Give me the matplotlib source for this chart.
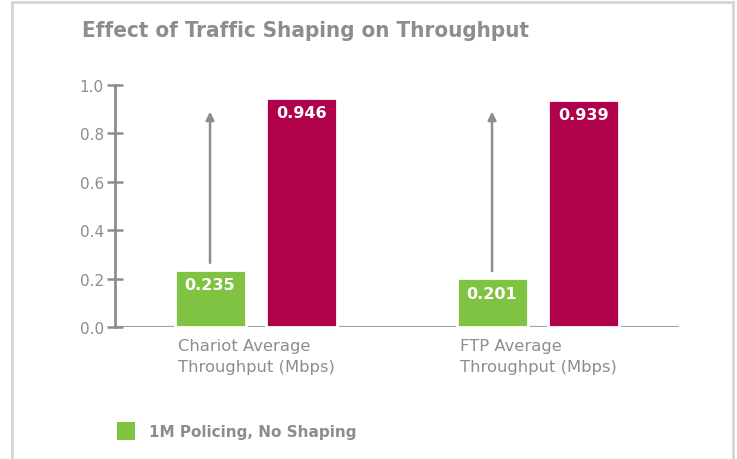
import matplotlib
matplotlib.use('Agg')
from matplotlib import pyplot as plt
from matplotlib.lines import Line2D
from matplotlib.patches import Patch
import numpy as np

# Chart data.
categories = ['Chariot Average\nThroughput (Mbps)', 'FTP Average\nThroughput (Mbps)']
policing = [0.235, 0.201]
shaping = [0.946, 0.939]
value_labels_pol = ['0.235', '0.201']
value_labels_sha = ['0.946', '0.939']
legend_label = '1M Policing, No Shaping'
title = 'Effect of Traffic Shaping on Throughput'
arrow_top = 0.89

green = '#80c242'
crimson = '#b0024b'
gray = '#8c8d91'

fig = plt.figure(figsize=(7.37, 4.60), dpi=100)
fig.patch.set_facecolor('white')
ax = fig.add_axes([115 / 737, 1 - 328 / 460, 564 / 737, 242 / 460])

x = np.arange(len(categories))
off = 0.163
width = 0.252

# Baseline drawn under the bars, bars get a white edge so it looks broken.
ax.axhline(0, color='#a3a4a8', lw=1.6, zorder=1)
ax.bar(x - off, policing, width, color=green, edgecolor='white', lw=2.0, zorder=2)
ax.bar(x + off, shaping, width, color=crimson, edgecolor='white', lw=2.0, zorder=2)

for i in range(len(categories)):
    ax.text(x[i] - off, policing[i] - 0.03, value_labels_pol[i], color='white',
            fontsize=11.5, fontweight='bold', ha='center', va='top', zorder=3)
    ax.text(x[i] + off, shaping[i] - 0.03, value_labels_sha[i], color='white',
            fontsize=11.5, fontweight='bold', ha='center', va='top', zorder=3)
    ax.annotate('', xy=(x[i] - off, arrow_top), xytext=(x[i] - off, policing[i] + 0.03),
                arrowprops=dict(arrowstyle='-|>', color=gray, lw=1.8,
                                mutation_scale=12, shrinkA=0, shrinkB=0))

# Format axes.
ax.set_xlim(-0.5, 1.5)
ax.set_ylim(0, 1.0)
ax.set_yticks([0.0, 0.2, 0.4, 0.6, 0.8, 1.0])
ax.set_yticklabels(['0.0', '0.2', '0.4', '0.6', '0.8', '1.0'])
ax.set_xticks(x)
ax.set_xticklabels(categories, multialignment='left', linespacing=1.45)
for s in ['top', 'right', 'bottom']:
    ax.spines[s].set_visible(False)
ax.spines['left'].set_color(gray)
ax.spines['left'].set_linewidth(2.0)
ax.tick_params(axis='y', direction='inout', length=12, width=1.8, color=gray,
               labelcolor=gray, labelsize=11, pad=2)
ax.tick_params(axis='x', length=0, labelcolor=gray, labelsize=11.8, pad=8)

# Title and legend.
fig.text(82 / 737, 1 - 31 / 460, title, color=gray, fontsize=16,
         fontweight='bold', fontstretch='condensed', ha='left', va='center')
handles = [Patch(facecolor=green, edgecolor='none')]
leg = fig.legend(handles, [legend_label], loc='center left',
                 bbox_to_anchor=(117 / 737, 1 - 432 / 460), frameon=False,
                 borderpad=0, borderaxespad=0, handlelength=1.2,
                 handleheight=1.35, handletextpad=0.9,
                 prop={'size': 11, 'weight': 'bold'}, labelcolor=gray)

# Light frame around the chart (open at the bottom).
fc = '#d3d6d9'
fig.add_artist(Line2D([12 / 737, 12 / 737], [0, 1 - 3 / 460], transform=fig.transFigure, color=fc, lw=2))
fig.add_artist(Line2D([12 / 737, 733 / 737], [1 - 3 / 460, 1 - 3 / 460], transform=fig.transFigure, color=fc, lw=2))
fig.add_artist(Line2D([733 / 737, 733 / 737], [0, 1 - 3 / 460], transform=fig.transFigure, color=fc, lw=2))

plt.savefig('out.png', dpi=100)
